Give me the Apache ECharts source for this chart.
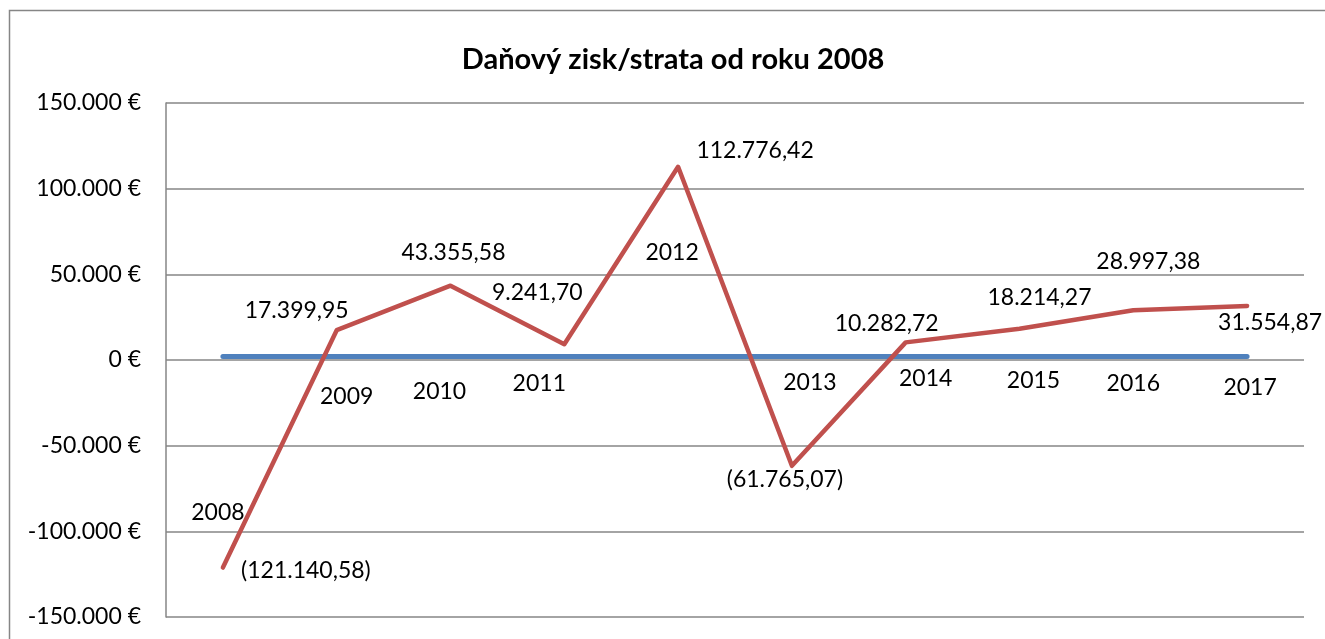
<!DOCTYPE html>
<html>
<head>
<meta charset="utf-8">
<script src="https://cdn.jsdelivr.net/npm/echarts@6/dist/echarts.min.js"></script>
<style>html,body{margin:0;padding:0;background:#fff;}#c{width:1325px;height:639px;}</style>
</head>
<body>
<div id="c"></div>
<script>
const titleText = 'Daňový zisk/strata od roku 2008';
const categories = ['2008','2009','2010','2011','2012','2013','2014','2015','2016','2017'];
const yearSeries = [2008, 2009, 2010, 2011, 2012, 2013, 2014, 2015, 2016, 2017];
const profitSeries = [-121140.58, 17399.95, 43355.58, 9241.70, 112776.42, -61765.07, 10282.72, 18214.27, 28997.38, 31554.87];
const yMin = -150000, yMax = 150000, yStep = 50000;

// label layout (manually placed labels in the original)
const yearLabelOffsets = [[-5,156],[10,40],[-11,35],[-25,27],[-6,-104],[18,26],[20,22],[14,24],[0,27],[3,31]];
const profitLabelOffsets = [[83,3],[-40,-20],[3,-33],[-27,-52],[77,-16],[-7,14],[-19,-19],[20,-31],[15,-49],[23,17]];

const FONT = 'Lato';
function thousands(n){ return String(n).replace(/\B(?=(\d{3})+(?!\d))/g, '.'); }
function fmtAxis(v){ const s = thousands(Math.abs(v)); return (v < 0 ? '-' : '') + s + ' €'; }
function fmtValue(v){
  const a = Math.abs(v).toFixed(2).split('.');
  const s = thousands(a[0]) + ',' + a[1];
  return v < 0 ? '(' + s + ')' : s;
}
const labelBase = {show:true, position:'inside', color:'#000', fontFamily:FONT, fontSize:23, align:'center', verticalAlign:'middle'};

const chart = echarts.init(document.getElementById('c'), null, {renderer:'canvas'});
chart.setOption({
  animation:false,
  backgroundColor:'#fff',
  title:{text:titleText, left:668, top:40, textAlign:'center', textStyle:{fontFamily:FONT, fontSize:29, fontWeight:'bold', color:'#000'}},
  graphic:[{type:'rect', shape:{x:9.5, y:10.5, width:1340, height:700}, style:{fill:'none', stroke:'#868686', lineWidth:1.5}, silent:true, z:-1}],
  grid:{left:166, right:21, top:103, bottom:22, containLabel:false},
  xAxis:{type:'category', data:categories, boundaryGap:true, axisLine:{show:false}, axisTick:{show:false}, axisLabel:{show:false}, splitLine:{show:false}},
  yAxis:{type:'value', min:yMin, max:yMax, interval:yStep,
    axisLine:{show:true, lineStyle:{color:'#868686', width:1.5}},
    axisTick:{show:false},
    axisLabel:{formatter:fmtAxis, margin:25, color:'#000', fontFamily:FONT, fontSize:23},
    splitLine:{show:true, lineStyle:{color:'#868686', width:1.5}}},
  series:[
    {type:'line', name:'rok', data:yearSeries.map((v,i)=>({value:v, label:Object.assign({}, labelBase, {offset:yearLabelOffsets[i], formatter:String(v)})})),
      symbol:'circle', symbolSize:0.5, itemStyle:{color:'rgba(0,0,0,0)'},
      lineStyle:{color:'#4F81BD', width:5, cap:'round', join:'round'}, z:2},
    {type:'line', name:'zisk', data:profitSeries.map((v,i)=>({value:v, label:Object.assign({}, labelBase, {offset:profitLabelOffsets[i], formatter:fmtValue(v)})})),
      symbol:'circle', symbolSize:0.5, itemStyle:{color:'rgba(0,0,0,0)'},
      lineStyle:{color:'#C0504D', width:4.5, cap:'round', join:'round'}, z:3}
  ]
});
</script>
</body>
</html>
